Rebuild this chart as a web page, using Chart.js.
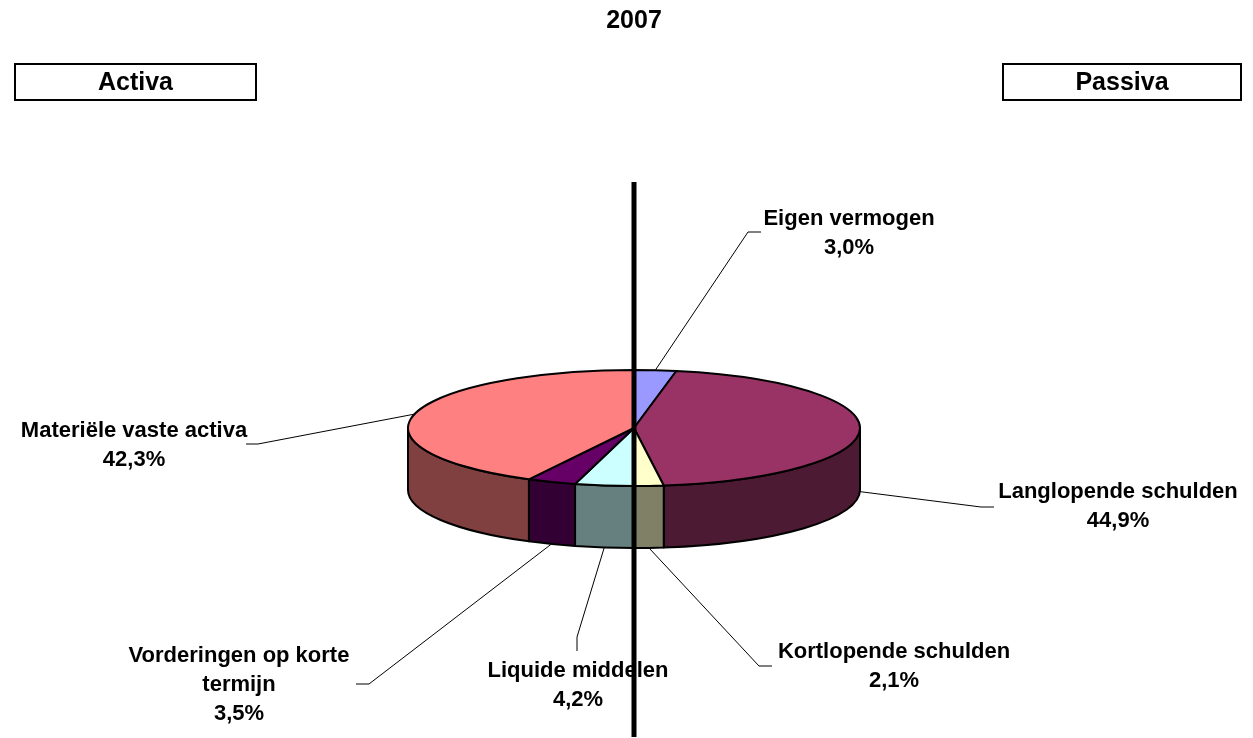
<!DOCTYPE html>
<html>
<head>
<meta charset="utf-8">
<script src="https://cdn.jsdelivr.net/npm/chart.js@4.4.1/dist/chart.umd.min.js"></script>
<style>
  html, body { margin: 0; padding: 0; background: #fff; }
  #wrap { width: 1253px; height: 738px; }
</style>
</head>
<body>
<div id="wrap"><canvas id="chart" width="1253" height="738"></canvas></div>
<script>
// data
const categories = ['Eigen vermogen', 'Langlopende schulden', 'Kortlopende schulden',
    'Liquide middelen', 'Vorderingen op korte termijn', 'Materiële vaste activa'];
const shares = [3.0, 44.9, 2.1, 4.2, 3.5, 42.3];
const chartTitle = '2007';
const sideHeaders = ['Activa', 'Passiva'];

// styling
const topColors = ['#9999FF', '#993366', '#FFFFCC', '#CCFFFF', '#660066', '#FF8080'];
const wallColors = ['#4D4D80', '#4D1A33', '#808066', '#668080', '#330033', '#804040'];
const FONT = '"Liberation Sans", Arial, Helvetica, sans-serif';

// label placement (text centre x, first baseline y, leader elbow, leader end, wrap width)
const labelLayout = [
    { x: 849, y: 225, elbow: [748, 232], end: [761, 232], wrap: 400 },
    { x: 1118, y: 498, elbow: [981, 507], end: [994, 507], wrap: 400 },
    { x: 894, y: 658, elbow: [759, 666], end: [772, 666], wrap: 400 },
    { x: 578, y: 677, elbow: [577, 637], end: [577, 651], wrap: 400 },
    { x: 239, y: 662, elbow: [369, 684], end: [356, 684], wrap: 240 },
    { x: 134, y: 437, elbow: [258, 444], end: [246, 444], wrap: 400 },
];

const TILT = 58 / 226;   // vertical squash of the top face
const DEPTH = 62 / 226;  // thickness of the disc, relative to radius

function fmtPct(v) {
    return v.toFixed(1).replace('.', ',') + '%';
}

function wrapText(ctx, text, maxWidth) {
    const words = text.split(' ');
    const lines = [];
    let cur = '';
    words.forEach(w => {
        const test = cur ? cur + ' ' + w : w;
        if (cur && ctx.measureText(test).width > maxWidth) {
            lines.push(cur);
            cur = w;
        } else {
            cur = test;
        }
    });
    if (cur) lines.push(cur);
    return lines;
}

// draws the pie as a tilted 3D disc from the arc elements chart.js laid out
const pie3d = {
    id: 'pie3d',
    beforeDatasetsDraw(chart) {
        const ctx = chart.ctx;
        const arcs = chart.getDatasetMeta(0).data;
        ctx.save();
        ctx.lineWidth = 2;
        ctx.lineJoin = 'round';
        ctx.strokeStyle = '#000';

        // side walls (front half only)
        arcs.forEach((arc, i) => {
            const p = arc.getProps(['x', 'y', 'startAngle', 'endAngle', 'outerRadius'], true);
            const rx = p.outerRadius, ry = rx * TILT, d = rx * DEPTH;
            const a = Math.max(p.startAngle, 0);
            const b = Math.min(p.endAngle, Math.PI);
            if (b <= a) return;
            ctx.beginPath();
            ctx.ellipse(p.x, p.y, rx, ry, 0, a, b);
            ctx.lineTo(p.x + rx * Math.cos(b), p.y + ry * Math.sin(b) + d);
            ctx.ellipse(p.x, p.y + d, rx, ry, 0, b, a, true);
            ctx.closePath();
            ctx.fillStyle = wallColors[i];
            ctx.fill();
            ctx.stroke();
        });

        // top faces
        arcs.forEach((arc, i) => {
            const p = arc.getProps(['x', 'y', 'startAngle', 'endAngle', 'outerRadius'], true);
            const rx = p.outerRadius, ry = rx * TILT;
            ctx.beginPath();
            ctx.moveTo(p.x, p.y);
            ctx.ellipse(p.x, p.y, rx, ry, 0, p.startAngle, p.endAngle);
            ctx.closePath();
            ctx.fillStyle = topColors[i];
            ctx.fill();
            ctx.stroke();
        });
        ctx.restore();
        return false;
    },
    afterDraw(chart) {
        const ctx = chart.ctx;
        const arcs = chart.getDatasetMeta(0).data;
        ctx.save();

        // leader lines + labels
        ctx.font = 'bold 22px ' + FONT;
        ctx.textAlign = 'center';
        ctx.textBaseline = 'alphabetic';
        arcs.forEach((arc, i) => {
            const p = arc.getProps(['x', 'y', 'startAngle', 'endAngle', 'outerRadius'], true);
            const rx = p.outerRadius, ry = rx * TILT, d = rx * DEPTH;
            const m = (p.startAngle + p.endAngle) / 2;
            let sx = p.x + rx * Math.cos(m);
            let sy = p.y + ry * Math.sin(m);
            if (Math.sin(m) > 0) sy += d;
            const L = labelLayout[i];
            ctx.beginPath();
            ctx.moveTo(sx, sy);
            ctx.lineTo(L.elbow[0], L.elbow[1]);
            ctx.lineTo(L.end[0], L.end[1]);
            ctx.strokeStyle = '#000';
            ctx.lineWidth = 1;
            ctx.stroke();

            const lines = wrapText(ctx, categories[i], L.wrap);
            lines.push(fmtPct(shares[i]));
            ctx.fillStyle = '#000';
            lines.forEach((t, k) => ctx.fillText(t, L.x, L.y + k * 29));
        });

        // Activa / Passiva boxes
        const boxes = [[15, 64, 241, 36], [1003, 64, 238, 36]];
        ctx.font = 'bold 25px ' + FONT;
        ctx.textBaseline = 'middle';
        boxes.forEach((b, k) => {
            ctx.fillStyle = '#fff';
            ctx.fillRect(b[0], b[1], b[2], b[3]);
            ctx.strokeStyle = '#000';
            ctx.lineWidth = 2;
            ctx.strokeRect(b[0], b[1], b[2], b[3]);
            ctx.fillStyle = '#000';
            ctx.fillText(sideHeaders[k], b[0] + b[2] / 2, b[1] + b[3] / 2 + 1);
        });

        // dividing line through the pie centre
        const cx = arcs[0].x;
        ctx.beginPath();
        ctx.moveTo(cx, 182);
        ctx.lineTo(cx, 737);
        ctx.lineWidth = 5;
        ctx.strokeStyle = '#000';
        ctx.stroke();
        ctx.restore();
    }
};

new Chart(document.getElementById('chart'), {
    type: 'pie',
    data: {
        labels: categories,
        datasets: [{
            data: shares,
            backgroundColor: topColors,
            borderWidth: 0,
            offset: 0,
            hoverOffset: 0,
        }],
    },
    options: {
        responsive: false,
        animation: false,
        events: [],
        layout: {
            padding: { left: 408, right: 393, top: 6, bottom: 84 },
        },
        plugins: {
            legend: { display: false },
            tooltip: { enabled: false },
            title: {
                display: true,
                text: chartTitle,
                color: '#000',
                font: { family: FONT, size: 25, weight: 'bold', lineHeight: 1.2 },
                padding: { top: 0, bottom: 166 },
            },
        },
    },
    plugins: [pie3d],
});
</script>
</body>
</html>
